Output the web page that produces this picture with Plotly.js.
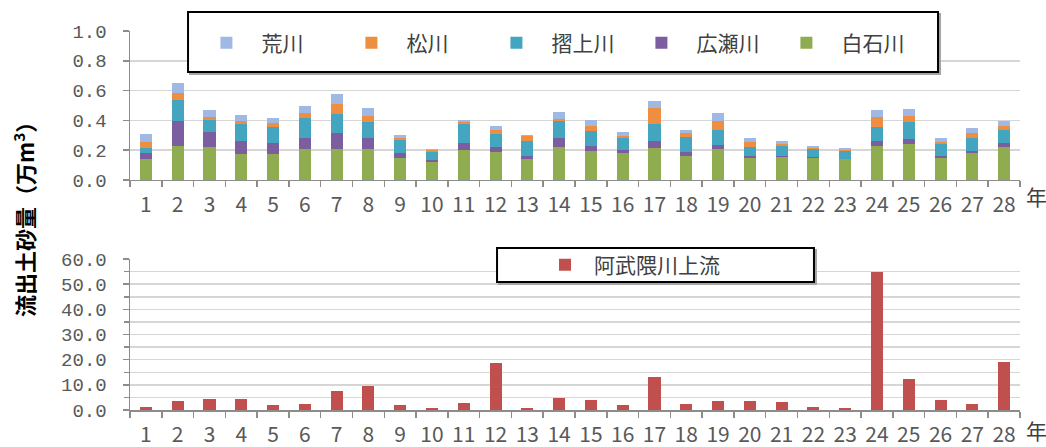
<!DOCTYPE html>
<html>
<head>
<meta charset="utf-8">
<script src="https://cdn.plot.ly/plotly-3.0.1.min.js"></script>
<style>html,body{margin:0;padding:0;background:#fff;}#chart{width:1046px;height:447px;}</style>
</head>
<body>
<div id="chart"></div>
<script>
// Categories (年)
const years = ['1','2','3','4','5','6','7','8','9','10','11','12','13','14','15','16','17','18','19','20','21','22','23','24','25','26','27','28'];

// Upper chart series (万m3), stacked bottom -> top
const shiraishi = [0.14,0.23,0.22,0.175,0.175,0.205,0.205,0.205,0.15,0.123,0.20,0.19,0.14,0.224,0.197,0.18,0.213,0.163,0.21,0.15,0.152,0.145,0.139,0.23,0.24,0.15,0.183,0.224];
const hirose    = [0.04,0.165,0.10,0.09,0.07,0.08,0.11,0.075,0.033,0.01,0.05,0.033,0.022,0.058,0.03,0.018,0.05,0.023,0.025,0.013,0.01,0.01,0.005,0.032,0.036,0.013,0.012,0.024];
const surikami  = [0.035,0.145,0.08,0.11,0.11,0.133,0.13,0.11,0.085,0.058,0.123,0.083,0.10,0.114,0.103,0.085,0.113,0.105,0.10,0.06,0.065,0.052,0.052,0.094,0.116,0.081,0.087,0.09];
const matsukawa = [0.037,0.045,0.025,0.022,0.025,0.03,0.065,0.04,0.013,0.01,0.015,0.03,0.035,0.016,0.03,0.013,0.107,0.024,0.06,0.033,0.013,0.007,0.005,0.064,0.036,0.011,0.036,0.022];
const arakawa   = [0.06,0.063,0.047,0.036,0.034,0.05,0.07,0.055,0.018,0.01,0.018,0.025,0.008,0.044,0.04,0.025,0.047,0.02,0.054,0.025,0.023,0.015,0.013,0.048,0.05,0.027,0.029,0.036];

// Lower chart series (万m3)
const abukuma = [1.05,3.5,4.2,4.2,2.0,2.4,7.6,9.4,2.0,0.65,2.6,18.8,0.9,4.6,3.9,1.8,13.1,2.4,3.5,3.4,3.0,1.3,0.8,54.7,12.2,3.9,2.4,19.0];

const names = {shiraishi:'白石川', hirose:'広瀬川', surikami:'摺上川', matsukawa:'松川', arakawa:'荒川', abukuma:'阿武隈川上流'};
const colors = {shiraishi:'#8fad50', hirose:'#7b5e9f', surikami:'#44a5c0', matsukawa:'#ee8e41', arakawa:'#a0b9e4', abukuma:'#c0504d'};

const cjk = '"Noto Sans CJK JP", "Noto Sans", sans-serif';
const tickFontX = {family:cjk, size:21, color:'#595959'};
const tickFontY = {family:'"Liberation Mono", "DejaVu Sans Mono", monospace', size:19, color:'#595959'};

function bar(key, y, xa, ya, leg) {
  return {type:'bar', x:years, y:y, name:names[key], xaxis:xa, yaxis:ya, legend:leg,
          marker:{color:colors[key], line:{width:0}}, hoverinfo:'x+y+name'};
}

const data = [
  bar('shiraishi', shiraishi, 'x', 'y', 'legend'),
  bar('hirose', hirose, 'x', 'y', 'legend'),
  bar('surikami', surikami, 'x', 'y', 'legend'),
  bar('matsukawa', matsukawa, 'x', 'y', 'legend'),
  bar('arakawa', arakawa, 'x', 'y', 'legend'),
  bar('abukuma', abukuma, 'x2', 'y2', 'legend2')
];

const axisLine = '#8c8c8c';
const gridCol = '#d6d6d6';

const xBase = {type:'category', showline:true, linecolor:axisLine, linewidth:1.5,
  ticks:'outside', ticklen:6, tickcolor:axisLine, tickwidth:1.5, tickson:'boundaries',
  showgrid:false, zeroline:false, tickfont:tickFontX, tickangle:0, ticklabelstandoff:5, fixedrange:true};
const yBase = {showline:true, linecolor:axisLine, linewidth:1.5, ticks:'outside', ticklen:6,
  tickcolor:axisLine, tickwidth:1.5, showgrid:true, gridcolor:gridCol, gridwidth:1.5,
  zeroline:false, tickfont:tickFontY, tickformat:'.1f', ticklabelstandoff:12, fixedrange:true};

const px = 1/890, py = 1/379;
const layout = {
  width:1046, height:447,
  margin:{l:130, r:26, t:31, b:37},
  paper_bgcolor:'#fff', plot_bgcolor:'#fff',
  barmode:'stack', bargap:0.62,
  showlegend:true,
  xaxis: Object.assign({}, xBase, {anchor:'y', domain:[0,1]}),
  yaxis: Object.assign({}, yBase, {anchor:'x', domain:[0.6069,1], range:[0,1], dtick:0.2}),
  xaxis2: Object.assign({}, xBase, {anchor:'y2', domain:[0,1]}),
  yaxis2: Object.assign({}, yBase, {anchor:'x2', domain:[0,0.3984], range:[0,60], dtick:10,
     minor:{dtick:5, showgrid:true, gridcolor:gridCol, gridwidth:1.5, ticks:'outside', ticklen:5, tickcolor:axisLine}}),
  legend:{orientation:'h', x:0.069, xanchor:'left', y:0.9683, yanchor:'middle', traceorder:'reversed',
     itemwidth:60, entrywidth:70, bgcolor:'rgba(0,0,0,0)', borderwidth:0,
     font:{family:cjk, size:21, color:'#404040'}},
  legend2:{orientation:'h', x:0.4562, xanchor:'left', y:0.3826, yanchor:'middle',
     itemwidth:48, bgcolor:'rgba(0,0,0,0)', borderwidth:0,
     font:{family:cjk, size:21, color:'#404040'}},
  shapes:[
    {type:'rect', xref:'paper', yref:'paper', x0:0.0652+2*px, x1:0.9079+2*px, y0:0.8918-2*py, y1:1.0501-2*py, line:{color:'#a6a6a6', width:2}, fillcolor:'#fff', layer:'above'},
    {type:'rect', xref:'paper', yref:'paper', x0:0.0652, x1:0.9079, y0:0.8918, y1:1.0501, line:{color:'#000', width:2}, fillcolor:'#fff', layer:'above'},
    {type:'rect', xref:'paper', yref:'paper', x0:0.4124+2*px, x1:0.7685+2*px, y0:0.3377-2*py, y1:0.4274-2*py, line:{color:'#a6a6a6', width:2}, fillcolor:'#fff', layer:'above'},
    {type:'rect', xref:'paper', yref:'paper', x0:0.4124, x1:0.7685, y0:0.3377, y1:0.4274, line:{color:'#000', width:2}, fillcolor:'#fff', layer:'above'}
  ],
  annotations:[
    {text:'流出土砂量（万m<sup>3</sup>）', xref:'paper', yref:'paper', x:(23-130)*px, y:(410-214)*py, textangle:-90,
     xanchor:'center', yanchor:'middle',
     showarrow:false, font:{family:cjk, size:22, color:'#000', weight:'bold'}},
    {text:'年', xref:'paper', yref:'paper', x:(1024-130)*px, y:(410-196)*py, xanchor:'left', yanchor:'middle',
     showarrow:false, font:{family:cjk, size:21, color:'#404040'}},
    {text:'年', xref:'paper', yref:'paper', x:(1024-130)*px, y:(410-430)*py, xanchor:'left', yanchor:'middle',
     showarrow:false, font:{family:cjk, size:21, color:'#404040'}}
  ]
};

Plotly.newPlot('chart', data, layout, {displayModeBar:false, staticPlot:true});
</script>
</body>
</html>
